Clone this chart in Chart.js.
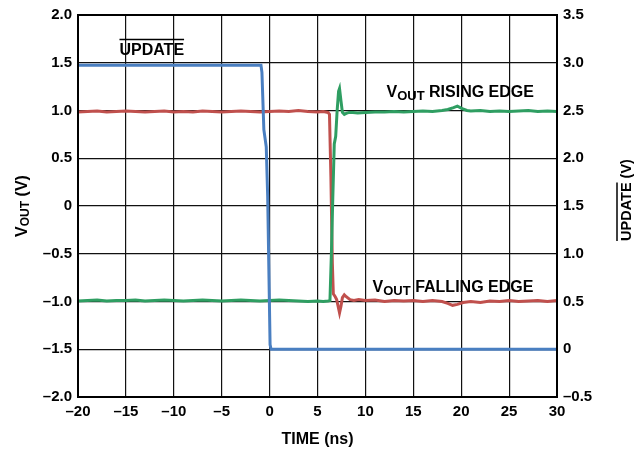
<!DOCTYPE html>
<html>
<head>
<meta charset="utf-8">
<script src="https://cdn.jsdelivr.net/npm/chart.js@4.4.1/dist/chart.umd.min.js"></script>
<style>
  html, body { margin: 0; padding: 0; background: #fff; }
  #wrap { width: 638px; height: 455px; position: relative; }
</style>
</head>
<body>
<div id="wrap"><canvas id="chart"></canvas></div>
<script>
// UPDATE (right axis, V)
var updateTime  = [-20, -0.9, -0.8, -0.6, -0.35, -0.2, 0.05, 0.15, 30];
var updateVolts = [2.975, 2.975, 2.9, 2.3, 2.12, 1.6, 0.05, 0, 0];

// VOUT rising edge (left axis, V)
var risingTime = [-20, -19, -18, -17, -16, -15, -14, -13, -12, -11, -10, -9, -8, -7, -6, -5, -4, -3, -2, -1, 0, 1, 2, 3, 4, 5,
  5.6, 6.1, 6.3, 6.45, 6.6, 6.75, 6.9, 7.05, 7.2, 7.3, 7.45, 7.6, 7.8, 8.0, 8.3, 8.7, 9.2,
  10, 11, 12, 13, 14, 15, 16, 17, 18,
  18.6, 19.2, 19.6, 20.1, 20.6,
  21, 22, 23, 24, 25, 26, 27, 28, 29, 30];
var risingVolts = [-0.995, -0.99, -0.985, -0.995, -0.99, -0.99, -0.985, -0.995, -0.99, -0.985, -0.99, -0.995, -0.99, -0.985, -0.99, -0.995, -0.99, -0.985, -0.99, -0.995, -0.99, -0.985, -0.99, -0.995, -1.0, -0.995,
  -1.0, -0.995, -0.99, -0.5, 0.1, 0.65, 0.73, 1.0, 1.2, 1.23, 1.1, 0.98, 0.96, 0.97, 0.98, 0.98, 0.975,
  0.98, 0.985, 0.985, 0.99, 0.985, 0.99, 0.995, 0.99, 1.0,
  1.01, 1.03, 1.045, 1.02, 1.0,
  0.995, 1.0, 0.99, 0.995, 0.99, 0.995, 1.0, 0.99, 0.995, 0.99];

// VOUT falling edge (left axis, V)
var fallingTime = [-20, -19, -18, -17, -16, -15, -14, -13, -12, -11, -10, -9, -8, -7, -6, -5, -4, -3, -2, -1, 0, 1, 2, 3, 4, 5,
  5.6, 6.1, 6.25, 6.4, 6.55, 6.65, 6.85, 7.0, 7.15, 7.3, 7.45, 7.6, 7.8, 8.0, 8.4, 8.8, 9.3,
  10, 11, 12, 13, 14, 15, 16, 17, 18,
  18.6, 19.1, 19.6, 20.2,
  21, 22, 23, 24, 25, 26, 27, 28, 29, 30];
var fallingVolts = [0.985, 0.99, 0.995, 0.985, 0.99, 0.995, 0.99, 0.985, 0.99, 0.995, 0.985, 0.99, 0.985, 0.995, 0.99, 0.985, 0.99, 0.995, 0.99, 0.985, 0.99, 0.995, 0.99, 1.0, 0.99, 0.985,
  0.99, 0.98, 0.96, 0.3, -0.6, -0.92, -0.95, -0.98, -1.05, -1.12, -1.05, -0.96, -0.93, -0.95, -0.98, -0.99, -0.98,
  -0.99, -0.985, -1.0, -0.99, -0.995, -0.99, -1.0, -0.99, -1.0,
  -1.02, -1.04, -1.03, -1.01,
  -1.0, -1.01, -0.995, -1.0, -0.99, -1.0, -0.995, -0.99, -1.0, -0.99];

var FONT = '"Liberation Sans", Arial, sans-serif';

function pairs(xs, ys) {
  return xs.map(function (x, i) { return { x: x, y: ys[i] }; });
}

function fmt(v, dec) {
  var s = v === 0 ? '0' : v.toFixed(dec);
  return s.replace('-', '\u2013');
}

// draws a run of text pieces (for subscripts), returns piece positions
function drawParts(ctx, parts, x, y, align) {
  var total = 0;
  parts.forEach(function (p) {
    ctx.font = 'bold ' + p.size + 'px ' + FONT;
    p.w = ctx.measureText(p.text).width;
    total += p.w;
  });
  var cx = align === 'center' ? x - total / 2 : x;
  parts.forEach(function (p) {
    ctx.font = 'bold ' + p.size + 'px ' + FONT;
    ctx.fillText(p.text, cx, y + (p.dy || 0));
    p.x = cx;
    cx += p.w;
  });
  return parts;
}

var textPlugin = {
  id: 'textPlugin',
  afterDraw: function (chart) {
    var ctx = chart.ctx;
    var xs = chart.scales.x, ys = chart.scales.y;
    var area = chart.chartArea;
    ctx.save();
    ctx.fillStyle = '#000';
    ctx.strokeStyle = '#000';
    ctx.textAlign = 'left';
    ctx.textBaseline = 'alphabetic';

    // frame
    ctx.lineWidth = 2;
    ctx.strokeRect(area.left, area.top, area.right - area.left, area.bottom - area.top);

    // UPDATE label with overline
    var p = drawParts(ctx, [{ text: 'UPDATE', size: 16 }],
      xs.getPixelForValue(-12.3), ys.getPixelForValue(1.58), 'center');
    ctx.lineWidth = 1.5;
    ctx.beginPath();
    ctx.moveTo(p[0].x, ys.getPixelForValue(1.58) - 15.5);
    ctx.lineTo(p[0].x + p[0].w, ys.getPixelForValue(1.58) - 15.5);
    ctx.stroke();

    drawParts(ctx, [
      { text: 'V', size: 16 },
      { text: 'OUT', size: 13, dy: 3 },
      { text: ' RISING EDGE', size: 16 }
    ], xs.getPixelForValue(12.2), ys.getPixelForValue(1.14), 'left');

    drawParts(ctx, [
      { text: 'V', size: 16 },
      { text: 'OUT', size: 13, dy: 3 },
      { text: ' FALLING EDGE', size: 16 }
    ], xs.getPixelForValue(10.75), ys.getPixelForValue(-0.9), 'left');

    // left axis title
    ctx.save();
    ctx.translate(27, (area.top + area.bottom) / 2);
    ctx.rotate(-Math.PI / 2);
    drawParts(ctx, [
      { text: 'V', size: 16 },
      { text: 'OUT', size: 12, dy: 2 },
      { text: ' (V)', size: 16 }
    ], 0, 0, 'center');
    ctx.restore();

    // right axis title
    ctx.save();
    ctx.translate(631, 200);
    ctx.rotate(-Math.PI / 2);
    var r = drawParts(ctx, [
      { text: 'UPDATE', size: 14.5 },
      { text: ' (V)', size: 14.5 }
    ], 0, 0, 'center');
    ctx.lineWidth = 1.5;
    ctx.beginPath();
    ctx.moveTo(r[0].x, -14);
    ctx.lineTo(r[0].x + r[0].w, -14);
    ctx.stroke();
    ctx.restore();

    // x axis title
    ctx.textAlign = 'center';
    ctx.font = 'bold 16px ' + FONT;
    ctx.fillText('TIME (ns)', (area.left + area.right) / 2, 444);

    ctx.restore();
  }
};

new Chart(document.getElementById('chart'), {
  type: 'line',
  data: {
    datasets: [{
      label: 'UPDATE',
      data: pairs(updateTime, updateVolts),
      yAxisID: 'y2',
      borderColor: '#4a7fc1',
      borderWidth: 3
    }, {
      label: 'VOUT RISING EDGE',
      data: pairs(risingTime, risingVolts),
      yAxisID: 'y',
      borderColor: '#2f9e62',
      borderWidth: 3
    }, {
      label: 'VOUT FALLING EDGE',
      data: pairs(fallingTime, fallingVolts),
      yAxisID: 'y',
      borderColor: '#c0504d',
      borderWidth: 3
    }]
  },
  options: {
    responsive: true,
    maintainAspectRatio: false,
    animation: false,
    elements: { point: { radius: 0 }, line: { tension: 0 } },
    layout: { padding: { top: 15, left: 0, right: 0, bottom: 0 } },
    plugins: { legend: { display: false }, tooltip: { enabled: false } },
    scales: {
      x: {
        type: 'linear',
        min: -20, max: 30,
        afterFit: function (s) { s.height = 58; },
        grid: { color: '#111', lineWidth: 1.2, drawTicks: false },
        border: { display: true, color: '#000', width: 2 },
        ticks: {
          stepSize: 5, padding: 6, color: '#000',
          font: { family: FONT, size: 15, weight: 'bold' },
          callback: function (v) { return fmt(v, 0); }
        }
      },
      y: {
        position: 'left',
        min: -2, max: 2,
        afterFit: function (s) { s.width = 78; },
        grid: { color: '#111', lineWidth: 1.2, drawTicks: false },
        border: { display: true, color: '#000', width: 2 },
        ticks: {
          stepSize: 0.5, padding: 6, color: '#000',
          font: { family: FONT, size: 15, weight: 'bold' },
          callback: function (v) { return fmt(v, 1); }
        }
      },
      y2: {
        position: 'right',
        min: -0.5, max: 3.5,
        afterFit: function (s) { s.width = 81; },
        grid: { drawOnChartArea: false, drawTicks: false },
        border: { display: true, color: '#000', width: 2 },
        ticks: {
          stepSize: 0.5, padding: 6, color: '#000',
          font: { family: FONT, size: 15, weight: 'bold' },
          callback: function (v) { return fmt(v, 1); }
        }
      }
    }
  },
  plugins: [textPlugin]
});
</script>
</body>
</html>
